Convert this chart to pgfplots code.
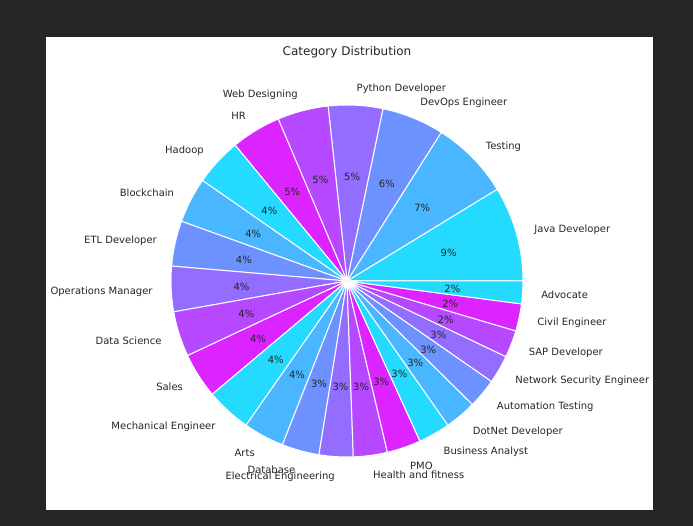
\documentclass[border=0pt]{standalone}
\usepackage{fontspec}
\setmainfont{DejaVu Sans}
\usepackage{pgfplots}
\usepackage{pgfplotstable}
\pgfplotsset{compat=1.18}
\definecolor{pie0}{HTML}{24DBFF}
\definecolor{pie1}{HTML}{49B6FF}
\definecolor{pie2}{HTML}{6D92FF}
\definecolor{pie3}{HTML}{926DFF}
\definecolor{pie4}{HTML}{B649FF}
\definecolor{pie5}{HTML}{DB24FF}
\definecolor{bgdark}{HTML}{262626}
\definecolor{txt}{HTML}{262626}

\pgfplotstableread[col sep=comma]{
label,count
Java Developer,84
Testing,70
DevOps Engineer,55
Python Developer,48
Web Designing,45
HR,44
Hadoop,42
Blockchain,40
ETL Developer,40
Operations Manager,40
Data Science,40
Sales,40
Mechanical Engineer,40
Arts,36
Database,33
Electrical Engineering,30
Health and fitness,30
PMO,30
Business Analyst,28
DotNet Developer,28
Automation Testing,26
Network Security Engineer,25
SAP Developer,24
Civil Engineer,24
Advocate,20
}\piedata

\begin{document}
\pgfplotstablegetrowsof{\piedata}\edef\nrows{\pgfplotsretval}%
\pgfmathtruncatemacro\lastrow{\nrows-1}%
\def\pietotal{0}%
\pgfplotsforeachungrouped \i in {0,...,\lastrow}{%
  \pgfplotstablegetelem{\i}{count}\of\piedata\edef\pcnt{\pgfplotsretval}%
  \pgfmathtruncatemacro\pietotal{\pietotal+\pcnt}%
}%
\def\piecum{0}%
\pgfplotsforeachungrouped \i in {0,...,\lastrow}{%
  \pgfplotstablegetelem{\i}{count}\of\piedata\edef\pcnt{\pgfplotsretval}%
  \pgfplotstablegetelem{\i}{label}\of\piedata
  \expandafter\let\csname pl\i\endcsname\pgfplotsretval
  \pgfmathsetmacro\pangA{\piecum/\pietotal*360}%
  \pgfmathtruncatemacro\piecum{\piecum+\pcnt}%
  \pgfmathsetmacro\pangB{\piecum/\pietotal*360}%
  \pgfmathsetmacro\pmid{(\pangA+\pangB)/2}%
  \pgfmathtruncatemacro\ppct{round(\pcnt/\pietotal*100)}%
  \pgfmathtruncatemacro\pk{mod(\i,6)}%
  \pgfmathsetmacro\pcx{cos(\pmid)}%
  \expandafter\let\csname pa\i\endcsname\pangA
  \expandafter\let\csname pb\i\endcsname\pangB
  \expandafter\let\csname pm\i\endcsname\pmid
  \expandafter\let\csname pp\i\endcsname\ppct
  \expandafter\edef\csname pc\i\endcsname{pie\pk}%
  \ifdim\pcx pt>0pt
    \expandafter\def\csname pn\i\endcsname{west}%
  \else
    \expandafter\def\csname pn\i\endcsname{east}%
  \fi
}%
\begin{tikzpicture}
\begin{axis}[x=1bp,y=1bp,xmin=-347,xmax=346,ymin=-245,ymax=281,
  hide axis,clip=false]
\fill[bgdark] (axis cs:-347,-245) rectangle (axis cs:346,281);
\fill[white] (axis cs:-301,-229) rectangle (axis cs:306,244);
\pgfplotsinvokeforeach{0,...,24}{%
  \fill[fill=\csname pc#1\endcsname, draw=white, line width=1bp, line join=round]
    (axis cs:0,0) -- (axis cs:{176*cos(\csname pa#1\endcsname)},{176*sin(\csname pa#1\endcsname)})
    arc[start angle=\csname pa#1\endcsname, end angle=\csname pb#1\endcsname, radius=176bp] -- cycle;
}
\pgfplotsinvokeforeach{0,...,24}{%
  \node[anchor=\csname pn#1\endcsname, inner sep=0pt, text=txt, yshift=-2bp,
        text height=7.6bp, text depth=2.4bp,
        font=\fontsize{10bp}{12bp}\selectfont]
    at (axis cs:{194.5*cos(\csname pm#1\endcsname)},{194.5*sin(\csname pm#1\endcsname)})
    {\csname pl#1\endcsname};
  \node[inner sep=0pt, text=txt, yshift=-2bp, text height=7.6bp, text depth=2.4bp,
        font=\fontsize{10bp}{12bp}\selectfont]
    at (axis cs:{105.6*cos(\csname pm#1\endcsname)},{105.6*sin(\csname pm#1\endcsname)})
    {\csname pp#1\endcsname\%};
}
\node[text=txt, inner sep=0pt, font=\fontsize{12bp}{14bp}\selectfont]
  at (axis cs:0,229) {Category Distribution};
\end{axis}
\end{tikzpicture}
\end{document}
